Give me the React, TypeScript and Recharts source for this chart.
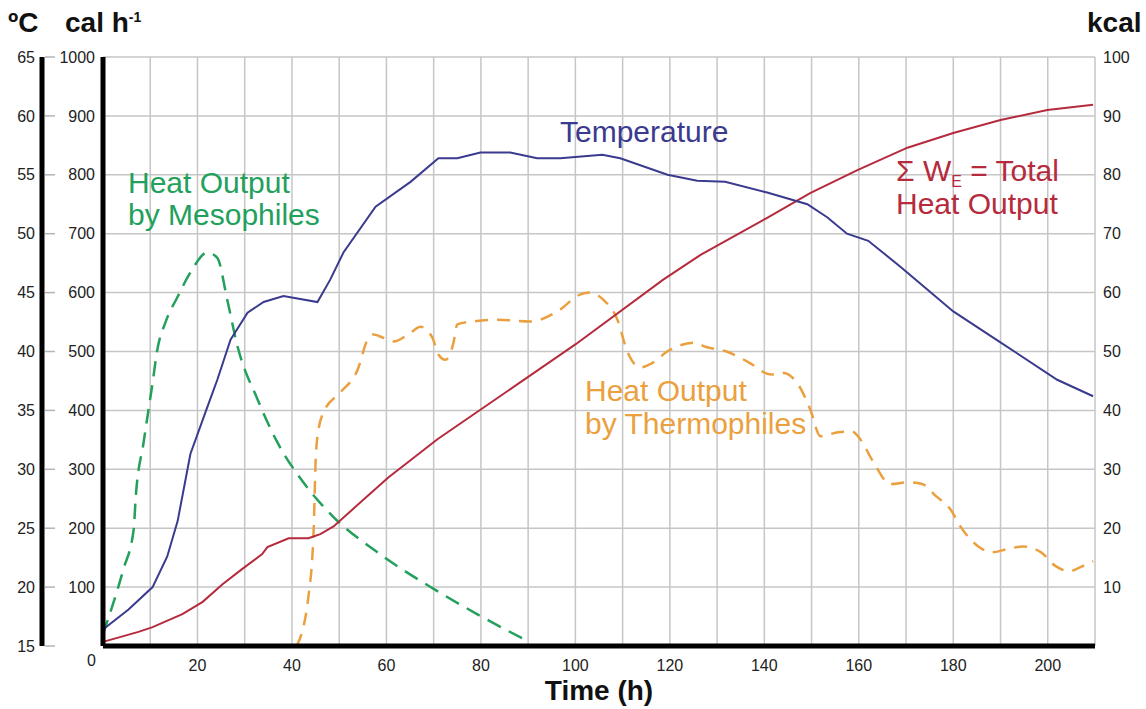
import { LineChart, Line, XAxis, YAxis, CartesianGrid } from "recharts";

const FONT = '"Liberation Sans", Arial, Helvetica, sans-serif';
const BLUE = "#3a3a8e";
const RED = "#b52b3d";
const GREEN = "#22a05c";
const ORANGE = "#eba040";

// time axis (h)
const hourTicks = [0, 10, 20, 30, 40, 50, 60, 70, 80, 90, 100, 110, 120, 130, 140, 150, 160, 170, 180, 190, 200, 210];
const calTicks = [0, 100, 200, 300, 400, 500, 600, 700, 800, 900, 1000];
const tempTicks = [15, 20, 25, 30, 35, 40, 45, 50, 55, 60, 65];
const kcalTicks = [10, 20, 30, 40, 50, 60, 70, 80, 90, 100];

// Temperature (ºC)
const tempHours = [0, 5.4, 10.5, 13.6, 15.8, 18.5, 22.1, 24.2, 27, 30.6, 34, 38.2, 45.4, 48.1, 50.9, 57.7, 65.1, 71, 75, 79.9, 86.2, 91.9, 96.8, 105.7, 109.5, 119.5, 125.8, 131.7, 140.6, 149.1, 153.3, 157.5, 162, 168.8, 180, 189.9, 202, 209.6];
const tempC = [16.4, 18.1, 20, 22.6, 25.6, 31.3, 35.3, 37.6, 41, 43.3, 44.2, 44.7, 44.2, 46.1, 48.4, 52.3, 54.4, 56.4, 56.4, 56.9, 56.9, 56.4, 56.4, 56.7, 56.4, 55, 54.5, 54.4, 53.5, 52.5, 51.4, 50, 49.4, 47.2, 43.4, 40.8, 37.6, 36.2];

// Σ WE = total heat output (kcal)
const totalHours = [0, 7.5, 10.5, 16.8, 21.1, 25.3, 29.5, 33.7, 34.8, 39.3, 43.5, 46, 48.8, 54.1, 60.4, 70.8, 100, 118.6, 126.5, 140.6, 149.7, 159.7, 170.3, 180, 190, 199.9, 209.6];
const totalKcal = [0.7, 2.4, 3.2, 5.4, 7.5, 10.5, 13.1, 15.6, 16.8, 18.3, 18.3, 19, 20.3, 24.1, 28.6, 35.1, 51.2, 62.2, 66.4, 72.7, 76.9, 80.8, 84.6, 87.1, 89.3, 91, 91.9];

// heat output by mesophiles (cal h-1)
const mesoHours = [0, 4.3, 6.5, 6.9, 8.6, 10.5, 11.5, 13.2, 15.8, 18.5, 22.1, 24.2, 26.3, 28.5, 32.7, 36.9, 42.4, 48.8, 58.1, 70, 79.9, 89];
const mesoCal = [20, 130, 198, 249, 346, 447, 503, 549, 593, 634, 668, 659, 588, 508, 419, 346, 278, 219, 159, 97, 51, 12];

// heat output by thermophiles (cal h-1)
const thermoHours = [41, 43.5, 44.6, 45, 45.4, 46.7, 50.3, 53.9, 56, 57.2, 61.5, 65.1, 67.2, 69.7, 71, 72.5, 74.2, 75, 78.4, 83.5, 90.5, 96.2, 101.1, 103.2, 105.9, 108.9, 111, 113.8, 115.7, 120.1, 125.2, 127.5, 132, 136.4, 141.5, 143.8, 147.4, 149.7, 151.9, 155.7, 158.6, 160.3, 163.1, 166.7, 170.5, 173.4, 176.4, 179.4, 181.5, 185.3, 188.3, 191.2, 194.8, 198.6, 201.6, 204.5, 207.5, 209.6];
const thermoCal = [0, 85, 198, 312, 356, 397, 431, 469, 520, 529, 517, 532, 542, 524, 495, 486, 515, 546, 551, 554, 551, 568, 597, 600, 588, 554, 500, 473, 478, 503, 515, 508, 500, 483, 461, 464, 441, 402, 356, 363, 364, 351, 312, 275, 278, 275, 254, 232, 203, 169, 159, 164, 169, 159, 136, 127, 136, 144];

const zip = (hours: number[], values: number[]) => hours.map((t, i) => ({ t, v: values[i] }));

const tempData = zip(tempHours, tempC);
const totalData = zip(totalHours, totalKcal);
const mesoData = zip(mesoHours, mesoCal);
const thermoData = zip(thermoHours, thermoCal);

const tickText = { fontSize: 16, fill: "#222", fontFamily: FONT };

function HourTick({ x, y, payload }: any) {
  const v = payload.value;
  if (v === 0 || v === 210 || v % 20 !== 0) return <g />;
  return (
    <text x={x} y={y + 16} textAnchor="middle" {...tickText}>
      {v}
    </text>
  );
}

function CalTick({ x, y, payload }: any) {
  if (payload.value === 0) {
    return (
      <text x={x + 1} y={y + 20} textAnchor="end" {...tickText}>
        0
      </text>
    );
  }
  return (
    <text x={x} y={y} dy="0.35em" textAnchor="end" {...tickText}>
      {payload.value}
    </text>
  );
}

function TempTick({ x, y, payload }: any) {
  return (
    <g>
      <text x={x} y={y} dy="0.35em" textAnchor="end" {...tickText}>
        {payload.value}
      </text>
      <line x1={x + 10} x2={x + 20} y1={y} y2={y} stroke="#b4b4b4" strokeWidth={1.5} />
    </g>
  );
}

function KcalTick({ x, y, payload }: any) {
  return (
    <text x={x} y={y} dy="0.35em" textAnchor="start" {...tickText}>
      {payload.value}
    </text>
  );
}

const thick = { stroke: "#000", strokeWidth: 5 };
const title = { fontSize: 28, fontWeight: 700, fill: "#111", fontFamily: FONT };
const note = { fontSize: 30, fontFamily: FONT };

export default function App() {
  return (
    <div style={{ position: "absolute", left: 0, top: 0, width: 1146, height: 709, background: "#fff" }}>
      <LineChart width={1146} height={709} margin={{ top: 57, right: 0, bottom: 33, left: 0 }}>
        <CartesianGrid yAxisId="cal" stroke="#c6c6c6" strokeWidth={1.5} />
        <XAxis
          dataKey="t"
          type="number"
          domain={[0, 210]}
          ticks={hourTicks}
          interval={0}
          height={30}
          tickSize={0}
          tickMargin={9}
          axisLine={thick}
          tickLine={false}
          tick={<HourTick />}
        />
        <YAxis
          yAxisId="cal"
          orientation="left"
          domain={[0, 1000]}
          ticks={calTicks}
          interval={0}
          width={61}
          tickSize={0}
          tickMargin={8}
          axisLine={thick}
          tickLine={false}
          tick={<CalTick />}
        />
        <YAxis
          yAxisId="temp"
          orientation="left"
          domain={[15, 65]}
          ticks={tempTicks}
          interval={0}
          width={42}
          tickSize={0}
          tickMargin={7}
          axisLine={thick}
          tickLine={false}
          tick={<TempTick />}
        />
        <YAxis
          yAxisId="kcal"
          orientation="right"
          domain={[0, 100]}
          ticks={kcalTicks}
          interval={0}
          width={51}
          tickSize={0}
          tickMargin={8}
          axisLine={false}
          tickLine={false}
          tick={<KcalTick />}
        />
        <Line data={mesoData} yAxisId="cal" dataKey="v" type="monotone" stroke={GREEN} strokeWidth={2.5} strokeDasharray="15 9" dot={false} isAnimationActive={false} />
        <Line data={thermoData} yAxisId="cal" dataKey="v" type="monotone" stroke={ORANGE} strokeWidth={2.5} strokeDasharray="13 9" dot={false} isAnimationActive={false} />
        <Line data={totalData} yAxisId="kcal" dataKey="v" type="linear" stroke={RED} strokeWidth={2} dot={false} isAnimationActive={false} />
        <Line data={tempData} yAxisId="temp" dataKey="v" type="linear" stroke={BLUE} strokeWidth={2} dot={false} isAnimationActive={false} />

        <text x={8} y={32} {...title}>ºC</text>
        <text x={65} y={32} {...title}>
          cal h<tspan fontSize={14} dy={-10}>-1</tspan>
        </text>
        <text x={1087} y={32} {...title}>kcal</text>
        <text x={599} y={700} textAnchor="middle" {...title}>Time (h)</text>

        <text x={128} y={193} fill={GREEN} {...note}>Heat Output</text>
        <text x={128} y={225} fill={GREEN} {...note}>by Mesophiles</text>
        <text x={560} y={142} fill={BLUE} {...note}>Temperature</text>
        <text x={896} y={181} fill={RED} {...note}>
          Σ W<tspan fontSize={16} dy={6}>E</tspan>
          <tspan dy={-6}>{" = Total"}</tspan>
        </text>
        <text x={896} y={214} fill={RED} {...note}>Heat Output</text>
        <text x={585} y={401} fill={ORANGE} {...note}>Heat Output</text>
        <text x={585} y={434} fill={ORANGE} {...note}>by Thermophiles</text>
      </LineChart>
    </div>
  );
}
